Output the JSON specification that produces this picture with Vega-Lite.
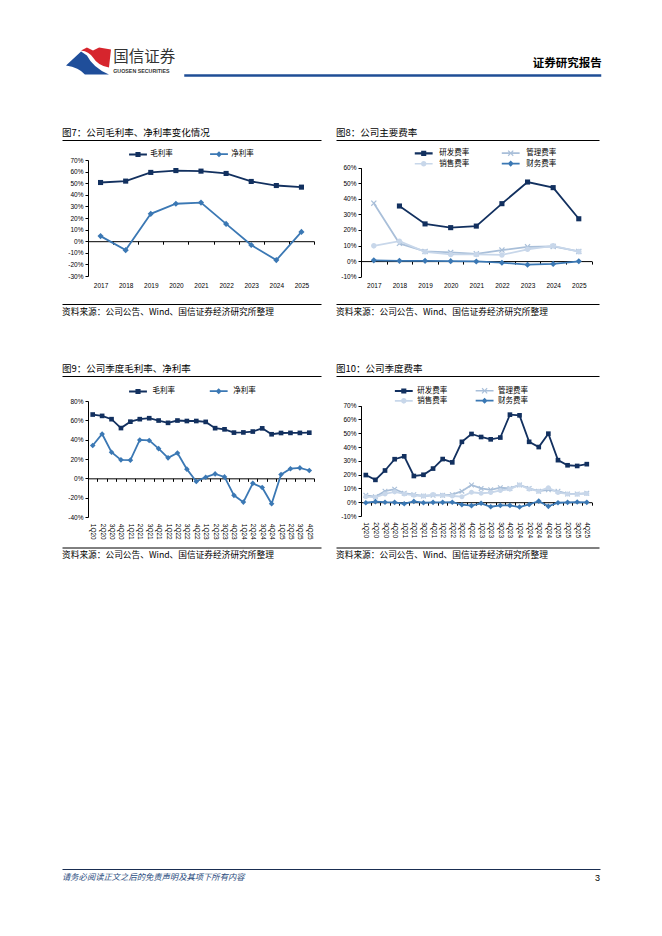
{
"$schema":"https://vega.github.io/schema/vega-lite/v6.json",
"background":"white",
"padding":{"left":62,"top":47,"right":0,"bottom":0},
"config":{"view":{"stroke":null},"font":"Noto Sans CJK SC"},
"columns":5,
"bounds":"flush",
"align":"each",
"spacing":0,
"resolve":{"scale":{"x":"independent","y":"independent","stroke":"independent","fill":"independent","shape":"independent"},"legend":{"stroke":"independent","fill":"independent","shape":"independent"},"axis":{"x":"independent","y":"independent"}},
"concat":[
{"width":1,"height":27,"data":{"values":[{}]},"mark":{"type":"point","size":0,"opacity":0}},
{"width":1,"height":27,
 "title":{"text":"国信证券","subtitle":"GUOSEN SECURITIES","anchor":"start","frame":"group","dx":25.25,"offset":-26.5,"fontSize":15.5,"fontWeight":"normal","color":"#333","subtitleFont":"Liberation Sans","subtitleFontSize":5.3,"subtitleFontWeight":"bold","subtitleColor":"#333","subtitlePadding":3},
 "layer":[
  {"data":{"values":[{"p":"b"},{"p":"r"}]},"mark":{"type":"point","filled":true,"opacity":1,"size":2025},
   "encoding":{"shape":{"field":"p","type":"nominal","scale":{"domain":["b","r"],"range":["M-1,0.18L-0.33,-0.44L-0.07,-0.27Q0.2,0.27,0.91,0.58L-0.16,0.58Q-0.42,0.27,-1,0.18Z","M-0.33,-0.49L-0.07,-0.62L0.2,-0.49L0.47,-0.62L1,-0.53L0.91,0.27Q0.42,0.18,0.2,-0.18Q0.02,-0.44,-0.33,-0.49Z"]},"legend":null},
   "fill":{"field":"p","type":"nominal","scale":{"domain":["b","r"],"range":["#1f4e9a","#d6252d"]},"legend":null}}},
  {"data":{"values":[{}]},"mark":{"type":"point","size":0,"opacity":0},
   "encoding":{"x":{"datum":0,"type":"quantitative","scale":{"domain":[0,1],"range":[95.75,512.75]},"axis":{"orient":"bottom","domainColor":"#1f4e96","domainWidth":2.5,"ticks":false,"labels":false,"title":null,"grid":false}}}}
 ]},
{"width":1,"height":27,"data":{"values":[{}]},"mark":{"type":"point","size":0,"opacity":0}},
{"width":1,"height":27,"data":{"values":[{}]},"mark":{"type":"point","size":0,"opacity":0}},
{"width":230.6,"height":27,"data":{"values":[{}]},"mark":{"type":"point","size":0,"opacity":0},
 "title":{"text":"证券研究报告","anchor":"end","frame":"group","dx":10.2,"offset":-21,"fontSize":11.5,"fontWeight":"bold","color":"#000"}},

{"width":1,"height":65,"data":{"values":[{}]},"mark":{"type":"point","size":0,"opacity":0}},
{"width":1,"height":1,"data":{"values":[{}]},"mark":{"type":"point","size":0,"opacity":0}},
{"width":1,"height":1,"data":{"values":[{}]},"mark":{"type":"point","size":0,"opacity":0}},
{"width":1,"height":1,"data":{"values":[{}]},"mark":{"type":"point","size":0,"opacity":0}},
{"width":1,"height":1,"data":{"values":[{}]},"mark":{"type":"point","size":0,"opacity":0}},

{"width":1,"height":20,"data":{"values":[{}]},"mark":{"type":"point","size":0,"opacity":0},
 "encoding":{"x":{"datum":0,"type":"quantitative","scale":{"domain":[0,1],"range":[0,259]},"axis":{"orient":"top","domainColor":"#000","domainWidth":1,"ticks":false,"labels":false,"title":null,"grid":false}}},
 "title":{"text":"图7：公司毛利率、净利率变化情况","anchor":"start","frame":"group","offset":3,"fontSize":9.5,"fontWeight":"normal","color":"#000"}},
{"width":1,"height":1,"data":{"values":[{}]},"mark":{"type":"point","size":0,"opacity":0}},
{"width":1,"height":1,"data":{"values":[{}]},"mark":{"type":"point","size":0,"opacity":0}},
{"width":1,"height":20,"data":{"values":[{}]},"mark":{"type":"point","size":0,"opacity":0},
 "encoding":{"x":{"datum":0,"type":"quantitative","scale":{"domain":[0,1],"range":[0,263]},"axis":{"orient":"top","domainColor":"#000","domainWidth":1,"ticks":false,"labels":false,"title":null,"grid":false}}},
 "title":{"text":"图8：公司主要费率","anchor":"start","frame":"group","offset":3,"fontSize":9.5,"fontWeight":"normal","color":"#000"}},
{"width":1,"height":1,"data":{"values":[{}]},"mark":{"type":"point","size":0,"opacity":0}},

{"width":25.25,"height":1,"data":{"values":[{}]},"mark":{"type":"point","size":0,"opacity":0}},
{"width":226,"height":116,
 "data":{"values":[
 {"year":"2017","s":"毛利率","v":50.6},{"year":"2018","s":"毛利率","v":51.8},{"year":"2019","s":"毛利率","v":59.3},{"year":"2020","s":"毛利率","v":60.9},{"year":"2021","s":"毛利率","v":60.4},{"year":"2022","s":"毛利率","v":58.4},{"year":"2023","s":"毛利率","v":51.5},{"year":"2024","s":"毛利率","v":48},{"year":"2025","s":"毛利率","v":46.6},
 {"year":"2017","s":"净利率","v":4.4},{"year":"2018","s":"净利率","v":-7.7},{"year":"2019","s":"净利率","v":23.6},{"year":"2020","s":"净利率","v":32.3},{"year":"2021","s":"净利率","v":33.3},{"year":"2022","s":"净利率","v":14.9},{"year":"2023","s":"净利率","v":-3.3},{"year":"2024","s":"净利率","v":-16.3},{"year":"2025","s":"净利率","v":8}
 ]},
 "encoding":{
  "x":{"field":"year","type":"ordinal","bandPosition":0.5,"scale":{"type":"band","paddingInner":0,"paddingOuter":0},
   "axis":{"orient":"bottom","offset":-34.8,"domainColor":"#000","domainWidth":1,"ticks":true,"tickBand":"extent","tickSize":3,"tickColor":"#000","tickWidth":1,"labelAngle":0,"labelFont":"Liberation Sans","labelFontSize":6.5,"labelColor":"#000","labelPadding":38.5,"title":null,"grid":false,"labelOverlap":false}},
  "y":{"field":"v","type":"quantitative","scale":{"domain":[-30,70],"nice":false,"zero":false},
   "axis":{"values":[-30,-20,-10,0,10,20,30,40,50,60,70],"labelExpr":"datum.value + '%'","domainColor":"#000","tickColor":"#000","tickSize":3,"labelFont":"Liberation Sans","labelFontSize":6.5,"labelColor":"#000","labelPadding":2,"title":null,"grid":false}}
 },
 "resolve":{"scale":{"fill":"independent","shape":"independent"},"legend":{"fill":"independent","shape":"independent"}},
 "layer":[
  {"mark":{"type":"line","strokeWidth":1.8},"encoding":{"stroke":{"field":"s","type":"nominal","scale":{"domain":["毛利率","净利率"],"range":["#12305f","#3b78b4"]},"legend":null}}},
  {"mark":{"type":"point","filled":true,"opacity":1,"size":72.25},"encoding":{
   "fill":{"field":"s","type":"nominal","scale":{"domain":["毛利率","净利率"],"range":["#12305f","#3b78b4"]},"legend":null},
   "shape":{"field":"s","type":"nominal","scale":{"domain":["毛利率","净利率"],"range":["M-0.6,-0.6H0.6V0.6H-0.6Z","M0,-0.72L0.72,0L0,0.72L-0.72,0Z"]},"legend":null}}},
  {"data":{"values":[]},"mark":{"type":"point","filled":true,"opacity":1,"size":72.25},"encoding":{
   "fill":{"field":"s","type":"nominal","scale":{"domain":["毛利率","净利率"],"range":["#12305f","#3b78b4"]},
    "legend":{"orient":"none","direction":"horizontal","legendX":44.5,"legendY":-11.5,"columns":2,"columnPadding":32,"padding":0,"title":null,"labelFont":"Noto Sans CJK SC","labelFontSize":7.5,"labelColor":"#000","labelOffset":6.75,"symbolSize":72.25,"symbolStrokeWidth":2,"symbolStrokeColor":"transparent","labelLimit":200}},
   "shape":{"field":"s","type":"nominal","scale":{"domain":["毛利率","净利率"],"range":["M-2.1,-0.24H2.1V0.24H-2.1ZM-0.6,-0.6H0.6V0.6H-0.6Z","M-2.1,-0.2H2.1V0.2H-2.1ZM0,-0.72L0.72,0L0,0.72L-0.72,0Z"]},
    "legend":{"orient":"none","direction":"horizontal","legendX":44.5,"legendY":-11.5,"columns":2,"columnPadding":32,"padding":0,"title":null,"labelFont":"Noto Sans CJK SC","labelFontSize":7.5,"labelColor":"#000","labelOffset":6.75,"symbolSize":72.25,"symbolStrokeWidth":2,"symbolStrokeColor":"transparent","labelLimit":200}}}}
 ]},
{"width":21.75,"height":1,"data":{"values":[{}]},"mark":{"type":"point","size":0,"opacity":0}},
{"width":24.2,"height":1,"data":{"values":[{}]},"mark":{"type":"point","size":0,"opacity":0}},
{"width":230.6,"height":116.7,
 "data":{"values":[
 {"year":"2018","s":"研发费率","v":35.4},{"year":"2019","s":"研发费率","v":23.9},{"year":"2020","s":"研发费率","v":21.5},{"year":"2021","s":"研发费率","v":22.5},{"year":"2022","s":"研发费率","v":36.9},{"year":"2023","s":"研发费率","v":50.8},{"year":"2024","s":"研发费率","v":47.2},{"year":"2025","s":"研发费率","v":27.2},
 {"year":"2017","s":"管理费率","v":37.2},{"year":"2018","s":"管理费率","v":11.4},{"year":"2019","s":"管理费率","v":6.2},{"year":"2020","s":"管理费率","v":5.6},{"year":"2021","s":"管理费率","v":4.7},{"year":"2022","s":"管理费率","v":7.1},{"year":"2023","s":"管理费率","v":9.2},{"year":"2024","s":"管理费率","v":9.4},{"year":"2025","s":"管理费率","v":6.2},
 {"year":"2017","s":"销售费率","v":9.8},{"year":"2018","s":"销售费率","v":12.8},{"year":"2019","s":"销售费率","v":6},{"year":"2020","s":"销售费率","v":4.3},{"year":"2021","s":"销售费率","v":4.3},{"year":"2022","s":"销售费率","v":4},{"year":"2023","s":"销售费率","v":7.6},{"year":"2024","s":"销售费率","v":9.8},{"year":"2025","s":"销售费率","v":6.1},
 {"year":"2017","s":"财务费率","v":0.5},{"year":"2018","s":"财务费率","v":0.2},{"year":"2019","s":"财务费率","v":0.2},{"year":"2020","s":"财务费率","v":0},{"year":"2021","s":"财务费率","v":-0.2},{"year":"2022","s":"财务费率","v":-1},{"year":"2023","s":"财务费率","v":-2.3},{"year":"2024","s":"财务费率","v":-1.8},{"year":"2025","s":"财务费率","v":-0.1}
 ]},
 "encoding":{
  "x":{"field":"year","type":"ordinal","bandPosition":0.5,"scale":{"type":"band","paddingInner":0,"paddingOuter":0},
   "axis":{"orient":"bottom","offset":-15.6,"domainColor":"#000","domainWidth":1,"ticks":true,"tickBand":"extent","tickSize":3,"tickColor":"#000","tickWidth":1,"labelAngle":0,"labelFont":"Liberation Sans","labelFontSize":6.5,"labelColor":"#000","labelPadding":18.4,"title":null,"grid":false,"labelOverlap":false}},
  "y":{"field":"v","type":"quantitative","scale":{"domain":[-10,60],"nice":false,"zero":false,"range":[116.7,7.7]},
   "axis":{"values":[-10,0,10,20,30,40,50,60],"labelExpr":"datum.value + '%'","domainColor":"#000","tickColor":"#000","tickSize":3,"labelFont":"Liberation Sans","labelFontSize":6.5,"labelColor":"#000","labelPadding":2,"title":null,"grid":false}}
 },
 "resolve":{"scale":{"stroke":"independent","fill":"independent","shape":"independent"},"legend":{"stroke":"independent","fill":"independent","shape":"independent"}},
 "layer":[
  {"mark":{"type":"line","strokeWidth":1.8},"encoding":{"stroke":{"field":"s","type":"nominal","scale":{"domain":["研发费率","管理费率","销售费率","财务费率"],"range":["#12305f","#a9bfd9","#c8d7ea","#3b78b4"]},"legend":null}}},
  {"mark":{"type":"point","filled":true,"opacity":1,"size":72.25},"encoding":{
   "fill":{"field":"s","type":"nominal","scale":{"domain":["研发费率","管理费率","销售费率","财务费率"],"range":["#12305f","#a9bfd9","#c8d7ea","#3b78b4"]},"legend":null},
   "shape":{"field":"s","type":"nominal","scale":{"domain":["研发费率","管理费率","销售费率","财务费率"],"range":["M-0.6,-0.6H0.6V0.6H-0.6Z","M-0.7,-0.5L-0.5,-0.7L0,-0.2L0.5,-0.7L0.7,-0.5L0.2,0L0.7,0.5L0.5,0.7L0,0.2L-0.5,0.7L-0.7,0.5L-0.2,0Z","M0.65,0C0.65,0.36,0.36,0.65,0,0.65C-0.36,0.65,-0.65,0.36,-0.65,0C-0.65,-0.36,-0.36,-0.65,0,-0.65C0.36,-0.65,0.65,-0.36,0.65,0Z","M0,-0.72L0.72,0L0,0.72L-0.72,0Z"]},"legend":null}}},
  {"data":{"values":[]},"mark":{"type":"point","filled":true,"opacity":1,"size":72.25},"encoding":{
   "fill":{"field":"s","type":"nominal","scale":{"domain":["研发费率","管理费率"],"range":["#12305f","#a9bfd9"]},
    "legend":{"orient":"none","direction":"horizontal","legendX":57.2,"legendY":-12.6,"columns":2,"columnPadding":28,"padding":0,"title":null,"labelFont":"Noto Sans CJK SC","labelFontSize":7.5,"labelColor":"#000","labelOffset":10,"symbolSize":72.25,"symbolStrokeWidth":2,"symbolStrokeColor":"transparent","labelLimit":200}},
   "shape":{"field":"s","type":"nominal","scale":{"domain":["研发费率","管理费率"],"range":["M-2.1,-0.24H2.1V0.24H-2.1ZM-0.6,-0.6H0.6V0.6H-0.6Z","M-2.1,-0.2H2.1V0.2H-2.1ZM-0.7,-0.5L-0.5,-0.7L0,-0.2L0.5,-0.7L0.7,-0.5L0.2,0L0.7,0.5L0.5,0.7L0,0.2L-0.5,0.7L-0.7,0.5L-0.2,0Z"]},
    "legend":{"orient":"none","direction":"horizontal","legendX":57.2,"legendY":-12.6,"columns":2,"columnPadding":28,"padding":0,"title":null,"labelFont":"Noto Sans CJK SC","labelFontSize":7.5,"labelColor":"#000","labelOffset":10,"symbolSize":72.25,"symbolStrokeWidth":2,"symbolStrokeColor":"transparent","labelLimit":200}}}},
  {"data":{"values":[]},"mark":{"type":"point","filled":true,"opacity":1,"size":72.25},"encoding":{
   "fill":{"field":"s","type":"nominal","scale":{"domain":["销售费率","财务费率"],"range":["#c8d7ea","#3b78b4"]},
    "legend":{"orient":"none","direction":"horizontal","legendX":57.2,"legendY":-2.1,"columns":2,"columnPadding":28,"padding":0,"title":null,"labelFont":"Noto Sans CJK SC","labelFontSize":7.5,"labelColor":"#000","labelOffset":10,"symbolSize":72.25,"symbolStrokeWidth":2,"symbolStrokeColor":"transparent","labelLimit":200}},
   "shape":{"field":"s","type":"nominal","scale":{"domain":["销售费率","财务费率"],"range":["M-2.1,-0.2H2.1V0.2H-2.1ZM0.65,0C0.65,0.36,0.36,0.65,0,0.65C-0.36,0.65,-0.65,0.36,-0.65,0C-0.65,-0.36,-0.36,-0.65,0,-0.65C0.36,-0.65,0.65,-0.36,0.65,0Z","M-2.1,-0.2H2.1V0.2H-2.1ZM0,-0.72L0.72,0L0,0.72L-0.72,0Z"]},
    "legend":{"orient":"none","direction":"horizontal","legendX":57.2,"legendY":-2.1,"columns":2,"columnPadding":28,"padding":0,"title":null,"labelFont":"Noto Sans CJK SC","labelFontSize":7.5,"labelColor":"#000","labelOffset":10,"symbolSize":72.25,"symbolStrokeWidth":2,"symbolStrokeColor":"transparent","labelLimit":200}}}}
 ]},

{"width":1,"height":27,"data":{"values":[{}]},"mark":{"type":"point","size":0,"opacity":0},
 "encoding":{"x":{"datum":0,"type":"quantitative","scale":{"domain":[0,1],"range":[0,259]},"axis":{"orient":"bottom","domainColor":"#000","domainWidth":1,"ticks":false,"labels":false,"title":null,"grid":false}}},
 "title":{"text":"资料来源：公司公告、Wind、国信证券经济研究所整理","orient":"bottom","anchor":"start","frame":"group","offset":3.5,"fontSize":8.7,"fontWeight":"normal","color":"#000"}},
{"width":1,"height":1,"data":{"values":[{}]},"mark":{"type":"point","size":0,"opacity":0}},
{"width":1,"height":1,"data":{"values":[{}]},"mark":{"type":"point","size":0,"opacity":0}},
{"width":1,"height":27,"data":{"values":[{}]},"mark":{"type":"point","size":0,"opacity":0},
 "encoding":{"x":{"datum":0,"type":"quantitative","scale":{"domain":[0,1],"range":[0,263]},"axis":{"orient":"bottom","domainColor":"#000","domainWidth":1,"ticks":false,"labels":false,"title":null,"grid":false}}},
 "title":{"text":"资料来源：公司公告、Wind、国信证券经济研究所整理","orient":"bottom","anchor":"start","frame":"group","offset":3.5,"fontSize":8.7,"fontWeight":"normal","color":"#000"}},
{"width":1,"height":1,"data":{"values":[{}]},"mark":{"type":"point","size":0,"opacity":0}},

{"width":1,"height":71.6,"data":{"values":[{}]},"mark":{"type":"point","size":0,"opacity":0}},
{"width":1,"height":1,"data":{"values":[{}]},"mark":{"type":"point","size":0,"opacity":0}},
{"width":1,"height":1,"data":{"values":[{}]},"mark":{"type":"point","size":0,"opacity":0}},
{"width":1,"height":1,"data":{"values":[{}]},"mark":{"type":"point","size":0,"opacity":0}},
{"width":1,"height":1,"data":{"values":[{}]},"mark":{"type":"point","size":0,"opacity":0}},

{"width":1,"height":25,"data":{"values":[{}]},"mark":{"type":"point","size":0,"opacity":0},
 "encoding":{"x":{"datum":0,"type":"quantitative","scale":{"domain":[0,1],"range":[0,259]},"axis":{"orient":"top","domainColor":"#000","domainWidth":1,"ticks":false,"labels":false,"title":null,"grid":false}}},
 "title":{"text":"图9：公司季度毛利率、净利率","anchor":"start","frame":"group","offset":3,"fontSize":9.5,"fontWeight":"normal","color":"#000"}},
{"width":1,"height":1,"data":{"values":[{}]},"mark":{"type":"point","size":0,"opacity":0}},
{"width":1,"height":1,"data":{"values":[{}]},"mark":{"type":"point","size":0,"opacity":0}},
{"width":1,"height":25,"data":{"values":[{}]},"mark":{"type":"point","size":0,"opacity":0},
 "encoding":{"x":{"datum":0,"type":"quantitative","scale":{"domain":[0,1],"range":[0,263]},"axis":{"orient":"top","domainColor":"#000","domainWidth":1,"ticks":false,"labels":false,"title":null,"grid":false}}},
 "title":{"text":"图10：公司季度费率","anchor":"start","frame":"group","offset":3,"fontSize":9.5,"fontWeight":"normal","color":"#000"}},
{"width":1,"height":1,"data":{"values":[{}]},"mark":{"type":"point","size":0,"opacity":0}},

{"width":1,"height":1,"data":{"values":[{}]},"mark":{"type":"point","size":0,"opacity":0}},
{"width":226,"height":116,
 "data":{"values":[
 {"q":"1Q20","s":"毛利率","v":66},{"q":"2Q20","s":"毛利率","v":64.6},{"q":"3Q20","s":"毛利率","v":61.2},{"q":"4Q20","s":"毛利率","v":52},{"q":"1Q21","s":"毛利率","v":58.6},{"q":"2Q21","s":"毛利率","v":61.2},{"q":"3Q21","s":"毛利率","v":62.2},{"q":"4Q21","s":"毛利率","v":59.8},{"q":"1Q22","s":"毛利率","v":57.4},{"q":"2Q22","s":"毛利率","v":59.8},{"q":"3Q22","s":"毛利率","v":59.3},{"q":"4Q22","s":"毛利率","v":59.3},{"q":"1Q23","s":"毛利率","v":58.4},{"q":"2Q23","s":"毛利率","v":51.9},{"q":"3Q23","s":"毛利率","v":50.7},{"q":"4Q23","s":"毛利率","v":47.3},{"q":"1Q24","s":"毛利率","v":47.5},{"q":"2Q24","s":"毛利率","v":48.4},{"q":"3Q24","s":"毛利率","v":51.7},{"q":"4Q24","s":"毛利率","v":45.6},{"q":"1Q25","s":"毛利率","v":46.9},{"q":"2Q25","s":"毛利率","v":47},{"q":"3Q25","s":"毛利率","v":47},{"q":"4Q25","s":"毛利率","v":47.2},
 {"q":"1Q20","s":"净利率","v":34},{"q":"2Q20","s":"净利率","v":45.9},{"q":"3Q20","s":"净利率","v":27},{"q":"4Q20","s":"净利率","v":19.1},{"q":"1Q21","s":"净利率","v":18.8},{"q":"2Q21","s":"净利率","v":39.7},{"q":"3Q21","s":"净利率","v":39.2},{"q":"4Q21","s":"净利率","v":30.7},{"q":"1Q22","s":"净利率","v":21.2},{"q":"2Q22","s":"净利率","v":26.2},{"q":"3Q22","s":"净利率","v":9.5},{"q":"4Q22","s":"净利率","v":-3.2},{"q":"1Q23","s":"净利率","v":1.2},{"q":"2Q23","s":"净利率","v":4.6},{"q":"3Q23","s":"净利率","v":1.5},{"q":"4Q23","s":"净利率","v":-17.6},{"q":"1Q24","s":"净利率","v":-24.6},{"q":"2Q24","s":"净利率","v":-5.2},{"q":"3Q24","s":"净利率","v":-9.5},{"q":"4Q24","s":"净利率","v":-26.3},{"q":"1Q25","s":"净利率","v":4},{"q":"2Q25","s":"净利率","v":10},{"q":"3Q25","s":"净利率","v":10.8},{"q":"4Q25","s":"净利率","v":8.1}
 ]},
 "encoding":{
  "x":{"field":"q","type":"ordinal","sort":null,"bandPosition":0.5,"scale":{"type":"band","paddingInner":0,"paddingOuter":0},
   "axis":{"orient":"bottom","offset":-38.67,"domainColor":"#000","domainWidth":1,"ticks":true,"tickBand":"extent","tickSize":3,"tickColor":"#000","tickWidth":1,"labelAngle":90,"labelFont":"Liberation Sans","labelFontSize":6.5,"labelColor":"#000","labelPadding":42,"title":null,"grid":false,"labelOverlap":false}},
  "y":{"field":"v","type":"quantitative","scale":{"domain":[-40,80],"nice":false,"zero":false},
   "axis":{"values":[-40,-20,0,20,40,60,80],"labelExpr":"datum.value + '%'","domainColor":"#000","tickColor":"#000","tickSize":3,"labelFont":"Liberation Sans","labelFontSize":6.5,"labelColor":"#000","labelPadding":2,"title":null,"grid":false}}
 },
 "resolve":{"scale":{"fill":"independent","shape":"independent"},"legend":{"fill":"independent","shape":"independent"}},
 "layer":[
  {"mark":{"type":"line","strokeWidth":1.8},"encoding":{"stroke":{"field":"s","type":"nominal","scale":{"domain":["毛利率","净利率"],"range":["#12305f","#3b78b4"]},"legend":null}}},
  {"mark":{"type":"point","filled":true,"opacity":1,"size":60},"encoding":{
   "fill":{"field":"s","type":"nominal","scale":{"domain":["毛利率","净利率"],"range":["#12305f","#3b78b4"]},"legend":null},
   "shape":{"field":"s","type":"nominal","scale":{"domain":["毛利率","净利率"],"range":["M-0.6,-0.6H0.6V0.6H-0.6Z","M0,-0.72L0.72,0L0,0.72L-0.72,0Z"]},"legend":null}}},
  {"data":{"values":[]},"mark":{"type":"point","filled":true,"opacity":1,"size":72.25},"encoding":{
   "fill":{"field":"s","type":"nominal","scale":{"domain":["毛利率","净利率"],"range":["#12305f","#3b78b4"]},
    "legend":{"orient":"none","direction":"horizontal","legendX":44.5,"legendY":-15.5,"columns":2,"columnPadding":29.7,"padding":0,"title":null,"labelFont":"Noto Sans CJK SC","labelFontSize":7.5,"labelColor":"#000","labelOffset":9,"symbolSize":72.25,"symbolStrokeWidth":2,"symbolStrokeColor":"transparent","labelLimit":200}},
   "shape":{"field":"s","type":"nominal","scale":{"domain":["毛利率","净利率"],"range":["M-2.1,-0.24H2.1V0.24H-2.1ZM-0.6,-0.6H0.6V0.6H-0.6Z","M-2.1,-0.2H2.1V0.2H-2.1ZM0,-0.72L0.72,0L0,0.72L-0.72,0Z"]},
    "legend":{"orient":"none","direction":"horizontal","legendX":44.5,"legendY":-15.5,"columns":2,"columnPadding":29.7,"padding":0,"title":null,"labelFont":"Noto Sans CJK SC","labelFontSize":7.5,"labelColor":"#000","labelOffset":9,"symbolSize":72.25,"symbolStrokeWidth":2,"symbolStrokeColor":"transparent","labelLimit":200}}}}
 ]},
{"width":1,"height":1,"data":{"values":[{}]},"mark":{"type":"point","size":0,"opacity":0}},
{"width":1,"height":1,"data":{"values":[{}]},"mark":{"type":"point","size":0,"opacity":0}},
{"width":230.6,"height":115,
 "data":{"values":[
 {"q":"1Q20","s":"研发费率","v":19.7},{"q":"2Q20","s":"研发费率","v":16.2},{"q":"3Q20","s":"研发费率","v":23},{"q":"4Q20","s":"研发费率","v":31.2},{"q":"1Q21","s":"研发费率","v":33.3},{"q":"2Q21","s":"研发费率","v":19},{"q":"3Q21","s":"研发费率","v":19.9},{"q":"4Q21","s":"研发费率","v":24.4},{"q":"1Q22","s":"研发费率","v":31.3},{"q":"2Q22","s":"研发费率","v":28.9},{"q":"3Q22","s":"研发费率","v":43.8},{"q":"4Q22","s":"研发费率","v":49.5},{"q":"1Q23","s":"研发费率","v":47.3},{"q":"2Q23","s":"研发费率","v":45.6},{"q":"3Q23","s":"研发费率","v":46.9},{"q":"4Q23","s":"研发费率","v":63.5},{"q":"1Q24","s":"研发费率","v":63},{"q":"2Q24","s":"研发费率","v":43.8},{"q":"3Q24","s":"研发费率","v":40},{"q":"4Q24","s":"研发费率","v":49.7},{"q":"1Q25","s":"研发费率","v":30.5},{"q":"2Q25","s":"研发费率","v":26.8},{"q":"3Q25","s":"研发费率","v":26.3},{"q":"4Q25","s":"研发费率","v":27.6},
 {"q":"1Q20","s":"管理费率","v":5},{"q":"2Q20","s":"管理费率","v":4},{"q":"3Q20","s":"管理费率","v":8},{"q":"4Q20","s":"管理费率","v":9.5},{"q":"1Q21","s":"管理费率","v":6.5},{"q":"2Q21","s":"管理费率","v":5.5},{"q":"3Q21","s":"管理费率","v":4.5},{"q":"4Q21","s":"管理费率","v":5},{"q":"1Q22","s":"管理费率","v":5},{"q":"2Q22","s":"管理费率","v":5.5},{"q":"3Q22","s":"管理费率","v":8},{"q":"4Q22","s":"管理费率","v":12.5},{"q":"1Q23","s":"管理费率","v":10},{"q":"2Q23","s":"管理费率","v":9},{"q":"3Q23","s":"管理费率","v":10.5},{"q":"4Q23","s":"管理费率","v":10},{"q":"1Q24","s":"管理费率","v":12.5},{"q":"2Q24","s":"管理费率","v":10},{"q":"3Q24","s":"管理费率","v":8},{"q":"4Q24","s":"管理费率","v":9},{"q":"1Q25","s":"管理费率","v":8},{"q":"2Q25","s":"管理费率","v":6},{"q":"3Q25","s":"管理费率","v":6},{"q":"4Q25","s":"管理费率","v":6.5},
 {"q":"1Q20","s":"销售费率","v":4},{"q":"2Q20","s":"销售费率","v":3.5},{"q":"3Q20","s":"销售费率","v":6},{"q":"4Q20","s":"销售费率","v":7.5},{"q":"1Q21","s":"销售费率","v":6},{"q":"2Q21","s":"销售费率","v":5},{"q":"3Q21","s":"销售费率","v":4.5},{"q":"4Q21","s":"销售费率","v":5.5},{"q":"1Q22","s":"销售费率","v":5},{"q":"2Q22","s":"销售费率","v":4.5},{"q":"3Q22","s":"销售费率","v":4},{"q":"4Q22","s":"销售费率","v":7.2},{"q":"1Q23","s":"销售费率","v":6.5},{"q":"2Q23","s":"销售费率","v":7},{"q":"3Q23","s":"销售费率","v":8.5},{"q":"4Q23","s":"销售费率","v":9.5},{"q":"1Q24","s":"销售费率","v":12.5},{"q":"2Q24","s":"销售费率","v":9.5},{"q":"3Q24","s":"销售费率","v":8},{"q":"4Q24","s":"销售费率","v":10.5},{"q":"1Q25","s":"销售费率","v":7},{"q":"2Q25","s":"销售费率","v":6},{"q":"3Q25","s":"销售费率","v":5.8},{"q":"4Q25","s":"销售费率","v":6.3},
 {"q":"1Q20","s":"财务费率","v":-0.4},{"q":"2Q20","s":"财务费率","v":0.4},{"q":"3Q20","s":"财务费率","v":0},{"q":"4Q20","s":"财务费率","v":-0.1},{"q":"1Q21","s":"财务费率","v":-1.1},{"q":"2Q21","s":"财务费率","v":0.6},{"q":"3Q21","s":"财务费率","v":-0.4},{"q":"4Q21","s":"财务费率","v":-0.1},{"q":"1Q22","s":"财务费率","v":-0.1},{"q":"2Q22","s":"财务费率","v":0},{"q":"3Q22","s":"财务费率","v":-1.8},{"q":"4Q22","s":"财务费率","v":-2.5},{"q":"1Q23","s":"财务费率","v":-0.8},{"q":"2Q23","s":"财务费率","v":-3.3},{"q":"3Q23","s":"财务费率","v":-2.3},{"q":"4Q23","s":"财务费率","v":-2.3},{"q":"1Q24","s":"财务费率","v":-3.5},{"q":"2Q24","s":"财务费率","v":-1.6},{"q":"3Q24","s":"财务费率","v":0.8},{"q":"4Q24","s":"财务费率","v":-3},{"q":"1Q25","s":"财务费率","v":-0.4},{"q":"2Q25","s":"财务费率","v":-0.1},{"q":"3Q25","s":"财务费率","v":0.1},{"q":"4Q25","s":"财务费率","v":-0.1}
 ]},
 "encoding":{
  "x":{"field":"q","type":"ordinal","sort":null,"bandPosition":0.5,"scale":{"type":"band","paddingInner":0,"paddingOuter":0},
   "axis":{"orient":"bottom","offset":-13.8,"domainColor":"#000","domainWidth":1,"ticks":true,"tickBand":"extent","tickSize":3,"tickColor":"#000","tickWidth":1,"labelAngle":90,"labelFont":"Liberation Sans","labelFontSize":6.5,"labelColor":"#000","labelPadding":16.5,"title":null,"grid":false,"labelOverlap":false}},
  "y":{"field":"v","type":"quantitative","scale":{"domain":[-10,70],"nice":false,"zero":false,"range":[115,4.7]},
   "axis":{"values":[-10,0,10,20,30,40,50,60,70],"labelExpr":"datum.value + '%'","domainColor":"#000","tickColor":"#000","tickSize":3,"labelFont":"Liberation Sans","labelFontSize":6.5,"labelColor":"#000","labelPadding":2,"title":null,"grid":false}}
 },
 "resolve":{"scale":{"stroke":"independent","fill":"independent","shape":"independent"},"legend":{"stroke":"independent","fill":"independent","shape":"independent"}},
 "layer":[
  {"mark":{"type":"line","strokeWidth":1.8},"encoding":{"stroke":{"field":"s","type":"nominal","scale":{"domain":["研发费率","管理费率","销售费率","财务费率"],"range":["#12305f","#a9bfd9","#c8d7ea","#3b78b4"]},"legend":null}}},
  {"mark":{"type":"point","filled":true,"opacity":1,"size":60},"encoding":{
   "fill":{"field":"s","type":"nominal","scale":{"domain":["研发费率","管理费率","销售费率","财务费率"],"range":["#12305f","#a9bfd9","#c8d7ea","#3b78b4"]},"legend":null},
   "shape":{"field":"s","type":"nominal","scale":{"domain":["研发费率","管理费率","销售费率","财务费率"],"range":["M-0.6,-0.6H0.6V0.6H-0.6Z","M-0.7,-0.5L-0.5,-0.7L0,-0.2L0.5,-0.7L0.7,-0.5L0.2,0L0.7,0.5L0.5,0.7L0,0.2L-0.5,0.7L-0.7,0.5L-0.2,0Z","M0.65,0C0.65,0.36,0.36,0.65,0,0.65C-0.36,0.65,-0.65,0.36,-0.65,0C-0.65,-0.36,-0.36,-0.65,0,-0.65C0.36,-0.65,0.65,-0.36,0.65,0Z","M0,-0.72L0.72,0L0,0.72L-0.72,0Z"]},"legend":null}}},
  {"data":{"values":[]},"mark":{"type":"point","filled":true,"opacity":1,"size":72.25},"encoding":{
   "fill":{"field":"s","type":"nominal","scale":{"domain":["研发费率","管理费率"],"range":["#12305f","#a9bfd9"]},
    "legend":{"orient":"none","direction":"horizontal","legendX":37.3,"legendY":-16,"columns":2,"columnPadding":23.8,"padding":0,"title":null,"labelFont":"Noto Sans CJK SC","labelFontSize":7.5,"labelColor":"#000","labelOffset":8,"symbolSize":72.25,"symbolStrokeWidth":2,"symbolStrokeColor":"transparent","labelLimit":200}},
   "shape":{"field":"s","type":"nominal","scale":{"domain":["研发费率","管理费率"],"range":["M-2.1,-0.24H2.1V0.24H-2.1ZM-0.6,-0.6H0.6V0.6H-0.6Z","M-2.1,-0.2H2.1V0.2H-2.1ZM-0.7,-0.5L-0.5,-0.7L0,-0.2L0.5,-0.7L0.7,-0.5L0.2,0L0.7,0.5L0.5,0.7L0,0.2L-0.5,0.7L-0.7,0.5L-0.2,0Z"]},
    "legend":{"orient":"none","direction":"horizontal","legendX":37.3,"legendY":-16,"columns":2,"columnPadding":23.8,"padding":0,"title":null,"labelFont":"Noto Sans CJK SC","labelFontSize":7.5,"labelColor":"#000","labelOffset":8,"symbolSize":72.25,"symbolStrokeWidth":2,"symbolStrokeColor":"transparent","labelLimit":200}}}},
  {"data":{"values":[]},"mark":{"type":"point","filled":true,"opacity":1,"size":72.25},"encoding":{
   "fill":{"field":"s","type":"nominal","scale":{"domain":["销售费率","财务费率"],"range":["#c8d7ea","#3b78b4"]},
    "legend":{"orient":"none","direction":"horizontal","legendX":37.3,"legendY":-6,"columns":2,"columnPadding":23.8,"padding":0,"title":null,"labelFont":"Noto Sans CJK SC","labelFontSize":7.5,"labelColor":"#000","labelOffset":8,"symbolSize":72.25,"symbolStrokeWidth":2,"symbolStrokeColor":"transparent","labelLimit":200}},
   "shape":{"field":"s","type":"nominal","scale":{"domain":["销售费率","财务费率"],"range":["M-2.1,-0.2H2.1V0.2H-2.1ZM0.65,0C0.65,0.36,0.36,0.65,0,0.65C-0.36,0.65,-0.65,0.36,-0.65,0C-0.65,-0.36,-0.36,-0.65,0,-0.65C0.36,-0.65,0.65,-0.36,0.65,0Z","M-2.1,-0.2H2.1V0.2H-2.1ZM0,-0.72L0.72,0L0,0.72L-0.72,0Z"]},
    "legend":{"orient":"none","direction":"horizontal","legendX":37.3,"legendY":-6,"columns":2,"columnPadding":23.8,"padding":0,"title":null,"labelFont":"Noto Sans CJK SC","labelFontSize":7.5,"labelColor":"#000","labelOffset":8,"symbolSize":72.25,"symbolStrokeWidth":2,"symbolStrokeColor":"transparent","labelLimit":200}}}}
 ]},

{"width":1,"height":30.5,"data":{"values":[{}]},"mark":{"type":"point","size":0,"opacity":0},
 "encoding":{"x":{"datum":0,"type":"quantitative","scale":{"domain":[0,1],"range":[0,259]},"axis":{"orient":"bottom","domainColor":"#000","domainWidth":1,"ticks":false,"labels":false,"title":null,"grid":false}}},
 "title":{"text":"资料来源：公司公告、Wind、国信证券经济研究所整理","orient":"bottom","anchor":"start","frame":"group","offset":3,"fontSize":8.7,"fontWeight":"normal","color":"#000"}},
{"width":1,"height":1,"data":{"values":[{}]},"mark":{"type":"point","size":0,"opacity":0}},
{"width":1,"height":1,"data":{"values":[{}]},"mark":{"type":"point","size":0,"opacity":0}},
{"width":1,"height":30.5,"data":{"values":[{}]},"mark":{"type":"point","size":0,"opacity":0},
 "encoding":{"x":{"datum":0,"type":"quantitative","scale":{"domain":[0,1],"range":[0,263]},"axis":{"orient":"bottom","domainColor":"#000","domainWidth":1,"ticks":false,"labels":false,"title":null,"grid":false}}},
 "title":{"text":"资料来源：公司公告、Wind、国信证券经济研究所整理","orient":"bottom","anchor":"start","frame":"group","offset":3,"fontSize":8.7,"fontWeight":"normal","color":"#000"}},
{"width":1,"height":1,"data":{"values":[{}]},"mark":{"type":"point","size":0,"opacity":0}},

{"width":1,"height":320.2,"data":{"values":[{}]},"mark":{"type":"point","size":0,"opacity":0}},
{"width":1,"height":1,"data":{"values":[{}]},"mark":{"type":"point","size":0,"opacity":0}},
{"width":1,"height":1,"data":{"values":[{}]},"mark":{"type":"point","size":0,"opacity":0}},
{"width":1,"height":1,"data":{"values":[{}]},"mark":{"type":"point","size":0,"opacity":0}},
{"width":1,"height":1,"data":{"values":[{}]},"mark":{"type":"point","size":0,"opacity":0}},

{"width":1,"height":18,
 "encoding":{"x":{"datum":0,"type":"quantitative","scale":{"domain":[0,1],"range":[0,538]},"axis":{"orient":"top","domainColor":"#1a2e52","domainWidth":1,"ticks":false,"labels":false,"title":null,"grid":false}}},
 "layer":[
  {"data":{"values":[{"t":"请务必阅读正文之后的免责声明及其项下所有内容"}]},"mark":{"type":"text","align":"left","baseline":"middle","fontStyle":"italic","fontSize":8.3,"color":"#2b4c7e"},"encoding":{"x":{"datum":0,"type":"quantitative"},"text":{"field":"t"}}},
  {"data":{"values":[{"t":"3"}]},"mark":{"type":"text","align":"right","baseline":"middle","fontSize":9,"font":"Liberation Sans","color":"#000"},"encoding":{"x":{"datum":1,"type":"quantitative"},"text":{"field":"t"}}}
 ]},
{"width":1,"height":1,"data":{"values":[{}]},"mark":{"type":"point","size":0,"opacity":0}},
{"width":1,"height":1,"data":{"values":[{}]},"mark":{"type":"point","size":0,"opacity":0}},
{"width":1,"height":1,"data":{"values":[{}]},"mark":{"type":"point","size":0,"opacity":0}},
{"width":1,"height":1,"data":{"values":[{}]},"mark":{"type":"point","size":0,"opacity":0}}
]
}
